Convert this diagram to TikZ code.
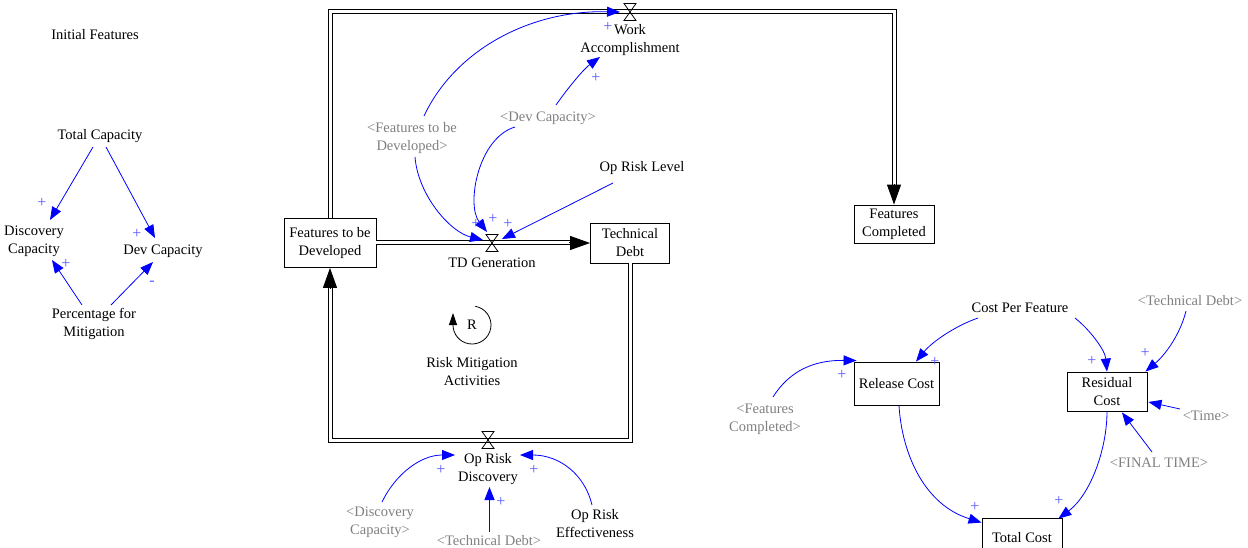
\documentclass[tikz,border=0pt]{standalone}
\usepackage{fontspec}
\setmainfont{Liberation Serif}
\usetikzlibrary{arrows.meta,calc}
\definecolor{linkblue}{RGB}{0,0,255}
\definecolor{polblue}{RGB}{90,90,255}
\definecolor{shadowgray}{RGB}{128,128,128}
\tikzset{
  valvepic/.pic={\draw[line width=0.8pt] (-6,-8.5) -- (6,-8.5) -- (-6,8.5) -- (6,8.5) -- cycle;}
}
\begin{document}
\begin{tikzpicture}[x=1pt,y=-1pt,
  every node/.style={font=\fontsize{14.5}{18}\selectfont, inner sep=0pt, align=center},
  shadow/.style={text=shadowgray},
  stock/.style={draw, line width=0.9pt},
  link/.style={draw=linkblue, line width=0.8pt, -{Triangle[length=13pt,width=10pt]}},
  pol/.style={text=polblue, font=\fontsize{16}{16}\selectfont},
  pipe/.style={draw=black, double=white, double distance=3pt, line width=1pt},
  pipehead/.style={line width=1pt, -{Triangle[length=20pt,width=14pt]}},
  loopline/.style={line width=0.8pt, -{Triangle[length=12pt,width=8pt]}}
]
\fill[white] (0,0) rectangle (1248,548);
\useasboundingbox (0,0) rectangle (1248,548);

% ---------- left panel ----------
\node (initf) at (95,35) {Initial Features};
\node (totcap) at (100,136) {Total Capacity};
\node (disccap) at (34,241) {Discovery\\Capacity};
\node (devcap) at (163,251) {Dev Capacity};
\node (pctmit) at (94,324) {Percentage for\\Mitigation};

\draw[link] ($(totcap)+(-7,11)$) -- ($(disccap)+(16,-21)$);
\draw[link] ($(totcap)+(6,11)$) -- ($(devcap)+(-8,-13)$);
\draw[link] ($(pctmit)+(-12,-19)$) -- ($(disccap)+(18,19)$);
\draw[link] ($(pctmit)+(17,-19)$) -- ($(devcap)+(-10,11)$);
\node[pol] (pl1) at (42,203) {+};
\node[pol] (pl2) at (137,234) {+};
\node[pol] (pl3) at (66,264) {+};
\node[pol] (pl4) at (152,283) {-};

% ---------- stocks ----------
\node[stock, minimum width=92pt, minimum height=49pt] (ftd) at (330,243) {Features to be\\Developed};
\node[stock, minimum width=79pt, minimum height=40pt] (tdb) at (630,243) {Technical\\Debt};
\node[stock, minimum width=80pt, minimum height=38pt] (fc) at (894,224) {Features\\Completed};
\node[stock, minimum width=85pt, minimum height=43pt] (rc) at (896.5,383.5) {Release Cost};
\node[stock, minimum width=80pt, minimum height=39pt] (resc) at (1107,391.5) {Residual\\Cost};
\node[stock, minimum width=80pt, minimum height=40pt] (tc) at (1022,538) {Total Cost};

% ---------- valves and pipes ----------
\coordinate (wav) at (630,12);
\coordinate (tdv) at (492,243);
\coordinate (orv) at (488,440);

\draw[pipe, shorten >=18pt] (ftd.north) |- (wav) -| (fc.north);
\draw[pipehead] ($(fc.north)+(0,-21)$) -- (fc.north);
\draw[pipe, shorten >=18pt] (ftd.east) -- (tdv) -- (tdb.west);
\draw[pipehead] ($(tdb.west)+(-21,0)$) -- (tdb.west);
\draw[pipe, shorten >=18pt] (tdb.south) |- (orv) -| (ftd.south);
\draw[pipehead] ($(ftd.south)+(0,21)$) -- (ftd.south);

\pic at (wav) {valvepic};
\pic at (tdv) {valvepic};
\pic at (orv) {valvepic};

% ---------- middle labels ----------
\node (wal) at (630,40.5) {Work\\Accomplishment};
\node (tdl) at (492,263) {TD Generation};
\node (ordl) at (488,469) {Op Risk\\Discovery};
\node[shadow] (ftdg) at (412,138) {<Features to be\\Developed>};
\node[shadow] (devg) at (548,118) {<Dev Capacity>};
\node (orl) at (642,168) {Op Risk Level};
\node (rl) at (472,325) {R};
\node (rma) at (472,372) {Risk Mitigation\\Activities};
\node[shadow] (discg) at (380,522) {<Discovery\\Capacity>};
\node[shadow] (tdg) at (489,541) {<Technical Debt>};
\node (ore) at (595,524) {Op Risk\\Effectiveness};

\draw[loopline] ($(rl)+(3.3,-18.7)$) arc[start angle=80, end angle=-180, radius=19pt] -- ++(0,-12);

% links into TD Generation
\draw[link] ($(ftdg)+(3,19)$) .. controls (418,195) and (450,232) .. ($(tdv)+(-9,-3)$);
\draw[link] ($(devg)+(-33,9)$) .. controls (478,138) and (466,205) .. ($(tdv)+(-5,-11)$);
\draw[link] ($(orl)+(-29,15)$) -- ($(tdv)+(10,-4)$);
% links into Work Accomplishment
\draw[link] ($(ftdg)+(12,-22)$) .. controls (455,50) and (530,10) .. ($(wav)+(-10,0)$);
\draw[link] ($(devg)+(8,-13)$) .. controls (570,85) and (585,68) .. ($(wal)+(-30,16.5)$);
\node[pol] (pm1) at (476,224) {+};
\node[pol] (pm2) at (493,219) {+};
\node[pol] (pm3) at (508,224) {+};
\node[pol] (pm4) at (596,78) {+};
\node[pol] (pm5) at (608,27) {+};

% links into Op Risk Discovery
\draw[link] ($(discg)+(2,-20)$) .. controls (395,475) and (420,455) .. ($(ordl)+(-33,-14)$);
\draw[link, line width=1.1pt] ($(tdg)+(0.5,-9)$) -- ($(ordl)+(1.5,18)$);
\draw[link] ($(ore)+(-3,-19)$) .. controls (585,475) and (560,455) .. ($(ordl)+(32,-14)$);
\node[pol] (pb1) at (441,470) {+};
\node[pol] (pb2) at (501,502) {+};
\node[pol] (pb3) at (534,470) {+};

% ---------- cost section ----------
\node (cpf) at (1020,308) {Cost Per Feature};
\node[shadow] (tdg2) at (1190,301) {<Technical Debt>};
\node[shadow] (timeg) at (1206,416) {<Time>};
\node[shadow] (ftg) at (1159,463) {<FINAL TIME>};
\node[shadow] (fcg) at (765,419.5) {<Features\\Completed>};

\draw[link] ($(fcg)+(8,-22.5)$) .. controls (790,370) and (815,360) .. ($(rc.north west)+(3,-1)$);
\draw[link] ($(cpf)+(-42,10)$) .. controls (955,326) and (932,342) .. ($(rc.north)+(19.5,0)$);
\draw[link] ($(rc.south)+(2.5,0)$) .. controls (902,455) and (925,505) .. ($(tc.north west)+(0,5)$);
\draw[link] ($(cpf)+(55,10)$) .. controls (1090,330) and (1105,350) .. (resc.north);
\draw[link] ($(tdg2)+(-4,10)$) .. controls (1180,335) and (1165,355) .. ($(resc.north east)+(-2,0)$);
\draw[link] ($(timeg)+(-26,-7)$) -- ($(resc.east)+(1,10.5)$);
\draw[link] ($(ftg)+(-7,-11)$) -- ($(resc.south)+(15,1)$);
\draw[link] (resc.south) .. controls (1107,450) and (1090,495) .. ($(tc.north east)+(-4,1)$);
\node[pol] (pc1) at (842,375) {+};
\node[pol] (pc2) at (935,362) {+};
\node[pol] (pc3) at (975,507) {+};
\node[pol] (pc4) at (1092,361) {+};
\node[pol] (pc5) at (1145,353) {+};
\node[pol] (pc6) at (1059,501) {+};
\end{tikzpicture}
\end{document}
